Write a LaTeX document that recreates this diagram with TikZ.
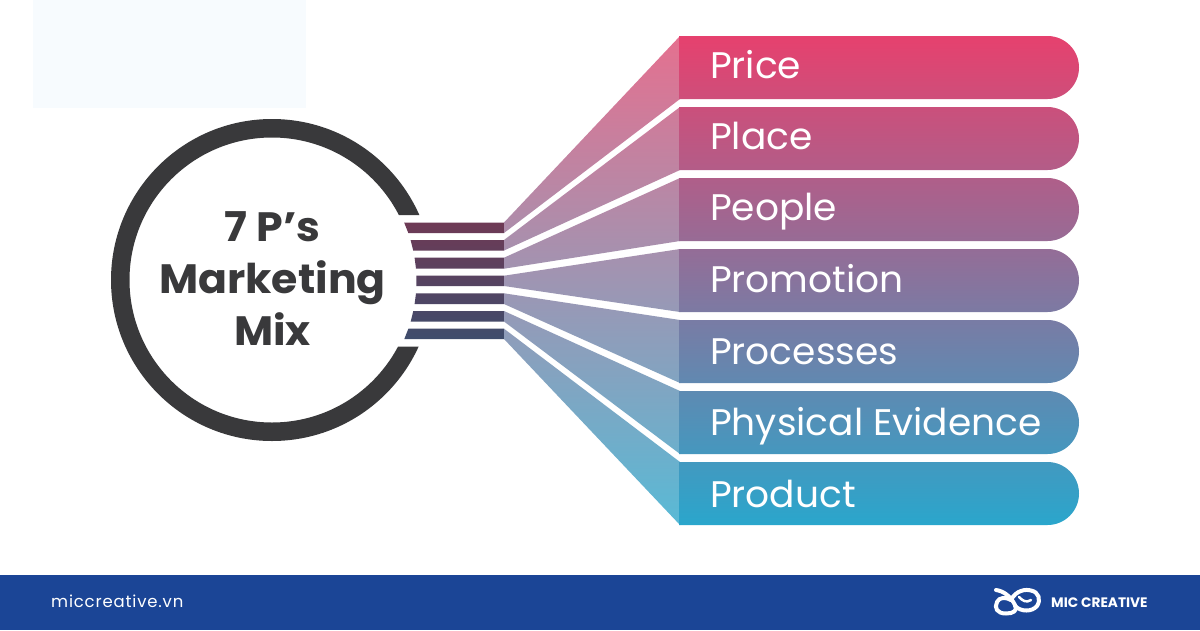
\documentclass[tikz,border=0pt]{standalone}
\usepackage{fontspec}
\setmainfont{Poppins}
\newfontfamily\labelfont[FakeStretch=1.015]{Poppins}
\newfontfamily\titlefont[FakeStretch=1.04]{Poppins}
\newfontfamily\sitefont[LetterSpace=5]{Poppins}
\definecolor{paleblue}{HTML}{F7FBFE}
\definecolor{footerblue}{HTML}{1B4596}
\definecolor{ringgray}{HTML}{39393B}
\definecolor{stripetop}{HTML}{6E3A55}
\definecolor{stripebot}{HTML}{3E4C6C}
\definecolor{fantop}{HTML}{E5708F}
\definecolor{fanmid}{HTML}{A092B3}
\definecolor{fanbot}{HTML}{58BAD6}
\definecolor{bartop}{HTML}{E6416E}
\definecolor{barbot}{HTML}{2AA6CC}
\tikzset{
  x=1pt,y=-1pt,
  barlabel/.style={anchor=base west,inner sep=0pt,text=white,font=\labelfont\fontsize{37}{37}\selectfont},
  footertext/.style={anchor=base west,inner sep=0pt,text=white},
}
\begin{document}
\begin{tikzpicture}
\useasboundingbox (0,0) rectangle (1200,630);
\fill[white] (0,0) rectangle (1200,630);
\fill[paleblue] (33,0) rectangle (306,108);
% ring
\begin{scope}
\clip (100,100) -- (440,100) -- (440,215) -- (395,215) -- (395,346.5) -- (440,346.5) -- (440,460) -- (100,460) -- cycle;
\fill[ringgray,even odd rule] (272,280) circle[radius=161pt] (272,280) circle[radius=142.5pt];
\end{scope}
% stripes
\path[top color=stripetop,bottom color=stripebot]
  (404.1,222.5) -- (504,222.5) -- (504,233) -- (408.3,233) -- cycle
  (410.6,240) -- (504,240) -- (504,250.5) -- (413.2,250.5) -- cycle
  (414.6,257.7) -- (504,257.7) -- (504,268.7) -- (416,268.7) -- cycle
  (416.4,275.7) -- (504,275.7) -- (504,286) -- (416.4,286) -- cycle
  (416,293.3) -- (504,293.3) -- (504,304) -- (414.6,304) -- cycle
  (413.3,311) -- (504,311) -- (504,321.5) -- (410.7,321.5) -- cycle
  (408.4,328.7) -- (504,328.7) -- (504,339) -- (404.3,339) -- cycle;
% fans
\path[top color=fantop,middle color=fanmid,bottom color=fanbot]
  (504,222.5) -- (680,36) -- (680,99) -- (504,233) -- cycle
  (504,240) -- (680,107) -- (680,170) -- (504,250.5) -- cycle
  (504,257.7) -- (680,178) -- (680,241) -- (504,268.7) -- cycle
  (504,275.7) -- (680,249) -- (680,312) -- (504,286) -- cycle
  (504,293.3) -- (680,320) -- (680,383) -- (504,304) -- cycle
  (504,311) -- (680,391) -- (680,454) -- (504,321.5) -- cycle
  (504,328.7) -- (680,462) -- (680,525) -- (504,339) -- cycle;
% bars
\path[top color=bartop,bottom color=barbot]
  foreach \t in {36,107,178,249,320,391,462} {
    (679,\t) -- (1047.5,\t) arc[start angle=-90,end angle=90,radius=31.5] -- (679,\t+63) -- cycle
  };
% labels
\node[barlabel] (price) at (710,78) {Price};
\node[barlabel] (place) at (710,149.3) {Place};
\node[barlabel] (people) at (710,220.7) {People};
\node[barlabel] (promotion) at (710,292) {Promotion};
\node[barlabel] (processes) at (710,364) {Processes};
\node[barlabel] (evidence) at (710,435.7) {Physical Evidence};
\node[barlabel] (product) at (710,507.3) {Product};
% title
\node[inner sep=0pt,text=ringgray,align=center,font=\titlefont\bfseries\fontsize{41}{52}\selectfont] (title) at (272.5,279) {7 P’s\\Marketing\\Mix};
% footer
\fill[footerblue] (0,575) rectangle (1200,630);
\node[footertext,font=\sitefont\fontsize{16.5}{16.5}\selectfont] (site) at (51,607) {miccreative.vn};
\node[footertext,font=\bfseries\fontsize{13.7}{13.7}\selectfont] (brand) at (1051,607.7) {MIC CREATIVE};
\draw[white,line width=4pt,line cap=round,line join=round]
  (996,590) .. controls (1004,591) and (1011,597) .. (1015,605)
  .. controls (1018,611) and (1013,613.5) .. (1006,613.5)
  .. controls (997,613.5) and (994,608) .. (997,602)
  .. controls (999,597) and (1006,597) .. (1011,600);
\draw[white,line width=4pt,line cap=round,line join=round]
  (1011,600) .. controls (1016,590) and (1026,589) .. (1031,590.5)
  .. controls (1039,592) and (1041,600) .. (1037,606)
  .. controls (1032,612) and (1021,612) .. (1015,606);
\draw[white,line width=2.5pt,line cap=round]
  (1019,597) .. controls (1023,601) and (1026,603) .. (1031,600);
\end{tikzpicture}
\end{document}
